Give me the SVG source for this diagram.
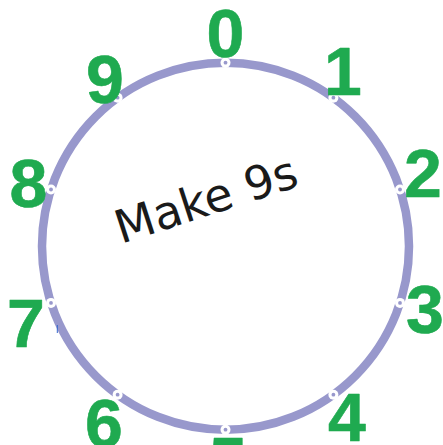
<svg xmlns="http://www.w3.org/2000/svg" width="443" height="445" viewBox="0 0 443 445">
  <style>
    .ring { fill: none; stroke: #9898cc; stroke-width: 8.5; }
    .dot-out { fill: #ffffff; }
    .dot-in { fill: #9898cc; }
    .digit { font-family: "Liberation Sans", Arial, sans-serif; font-weight: bold; font-size: 68px; fill: #1faa50; stroke: #1faa50; stroke-width: 0.6; stroke-linejoin: round; text-anchor: middle; }
    .title { font-family: "DejaVu Sans", Verdana, sans-serif; font-size: 46px; fill: #1a1a1a; }
  </style>
  <rect width="443" height="445" fill="#ffffff"/>
  <g id="connectors">
    <circle class="ring" cx="225.5" cy="246.2" r="183.5"/>
    <line x1="57.3" y1="325" x2="57.3" y2="333" stroke="#3366cc" stroke-width="1"/>
  </g>
  <g id="node-0">
    <circle class="dot-out" cx="225.5" cy="62.7" r="5"/><circle class="dot-in" cx="225.5" cy="62.7" r="1.9"/>
    <text class="digit" x="225.5" y="57">0</text>
  </g>
  <g id="node-1">
    <circle class="dot-out" cx="333.4" cy="97.7" r="5"/><circle class="dot-in" cx="333.4" cy="97.7" r="1.9"/>
    <text class="digit" x="343" y="95">1</text>
  </g>
  <g id="node-2">
    <circle class="dot-out" cx="400" cy="189.5" r="5"/><circle class="dot-in" cx="400" cy="189.5" r="1.9"/>
    <text class="digit" x="423" y="197">2</text>
  </g>
  <g id="node-3">
    <circle class="dot-out" cx="400" cy="302.9" r="5"/><circle class="dot-in" cx="400" cy="302.9" r="1.9"/>
    <text class="digit" x="425" y="333">3</text>
  </g>
  <g id="node-4">
    <circle class="dot-out" cx="333.4" cy="394.7" r="5"/><circle class="dot-in" cx="333.4" cy="394.7" r="1.9"/>
    <text class="digit" x="347" y="441">4</text>
  </g>
  <g id="node-5">
    <circle class="dot-out" cx="225.5" cy="429.7" r="5"/><circle class="dot-in" cx="225.5" cy="429.7" r="1.9"/>
    <text class="digit" x="228" y="485">5</text>
  </g>
  <g id="node-6">
    <circle class="dot-out" cx="117.6" cy="394.7" r="5"/><circle class="dot-in" cx="117.6" cy="394.7" r="1.9"/>
    <text class="digit" x="104" y="447">6</text>
  </g>
  <g id="node-7">
    <circle class="dot-out" cx="51" cy="302.9" r="5"/><circle class="dot-in" cx="51" cy="302.9" r="1.9"/>
    <text class="digit" x="26" y="347">7</text>
  </g>
  <g id="node-8">
    <circle class="dot-out" cx="51" cy="189.5" r="5"/><circle class="dot-in" cx="51" cy="189.5" r="1.9"/>
    <text class="digit" x="28.5" y="207">8</text>
  </g>
  <g id="node-9">
    <circle class="dot-out" cx="117.6" cy="97.7" r="5"/><circle class="dot-in" cx="117.6" cy="97.7" r="1.9"/>
    <text class="digit" x="105" y="103">9</text>
  </g>
  <g id="title">
    <text class="title" x="121" y="244" transform="rotate(-18 121 244)">Make 9s</text>
  </g>
</svg>
